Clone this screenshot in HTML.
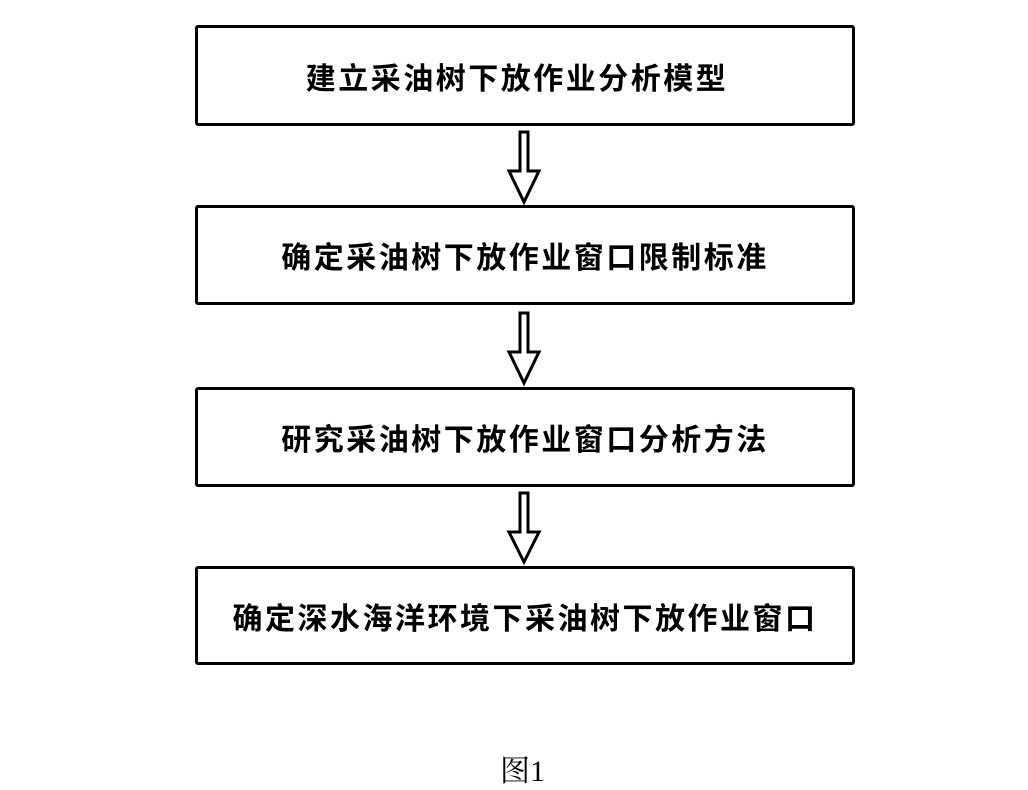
<!DOCTYPE html>
<html><head><meta charset="utf-8"><style>
body{margin:0;width:1028px;height:789px;background:#fff;position:relative;overflow:hidden;font-family:"Liberation Sans","Noto Sans CJK SC",sans-serif;}
.b{position:absolute;left:195px;width:654px;border:3px solid #000;border-radius:3px;display:flex;align-items:center;justify-content:center;font-size:30px;font-weight:bold;letter-spacing:2.5px;color:#000;}
svg{position:absolute;left:0;top:0}
.cap{position:absolute;left:500px;top:746px;font-size:30px;font-family:"Liberation Serif","Noto Serif CJK SC",serif;}
</style></head><body>
<div class="b" style="top:25px;height:95px"><span style="position:relative;left:-8px">建立采油树下放作业分析模型</span></div>
<div class="b" style="top:205px;height:94px">确定采油树下放作业窗口限制标准</div>
<div class="b" style="top:387px;height:94px">研究采油树下放作业窗口分析方法</div>
<div class="b" style="top:566px;height:93px">确定深水海洋环境下采油树下放作业窗口</div>
<svg width="1028" height="789">
<g fill="#fff" stroke="#000" stroke-width="3" stroke-linejoin="miter">
<path d="M520,132 L528,132 L528,171 L539,171 L524,202 L509,171 L520,171 Z"/>
<path d="M520,313 L528,313 L528,352 L539,352 L524,383 L509,352 L520,352 Z"/>
<path d="M520,493 L528,493 L528,532 L539,532 L524,562 L509,532 L520,532 Z"/>
</g>
</svg>
<div class="cap">图1</div>
</body></html>
